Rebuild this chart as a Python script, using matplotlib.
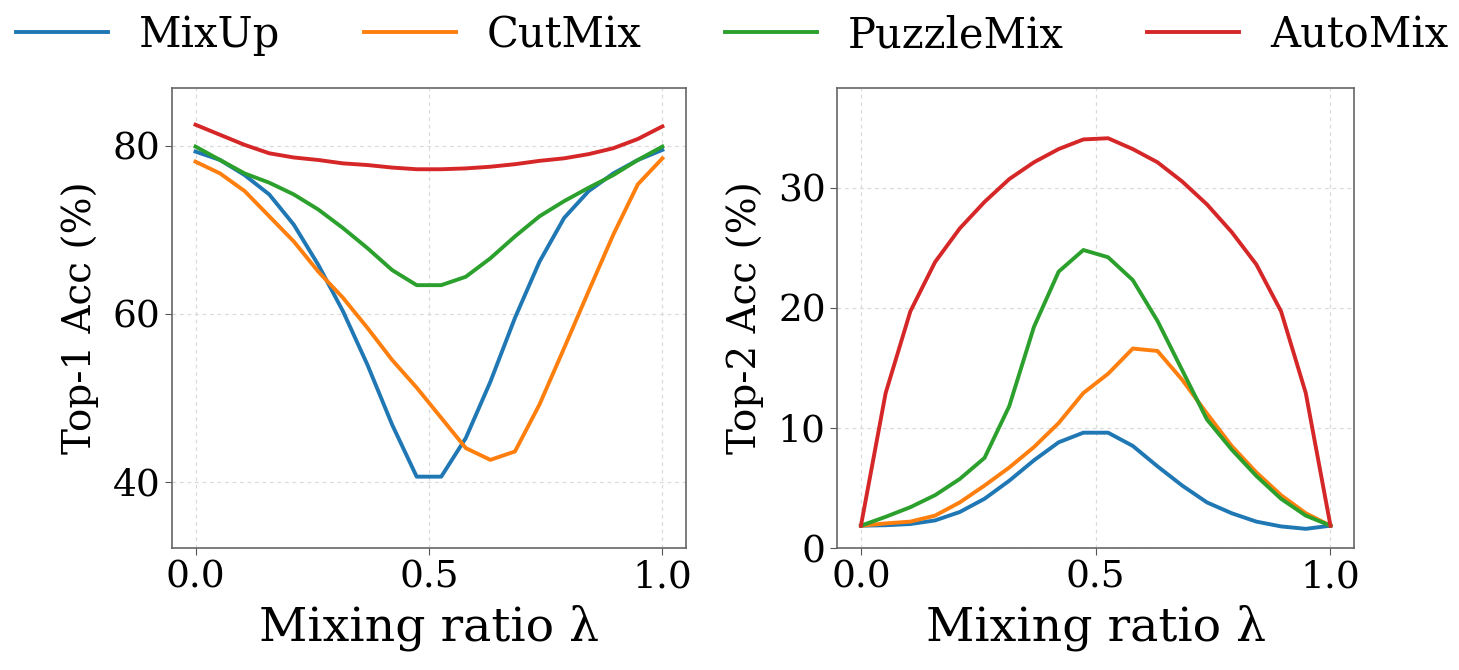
import numpy as np
import matplotlib
matplotlib.use("Agg")
import matplotlib.pyplot as plt

plt.rcParams['font.family'] = ['DejaVu Serif']

lam = np.linspace(0, 1, 20)

methods = ["MixUp", "CutMix", "PuzzleMix", "AutoMix"]
colors = ["#1f77b4", "#ff7f0e", "#2ca02c", "#d62728"]

top1_mixup = [79.3, 78.3, 76.5, 74.2, 70.6, 65.8, 60.3, 53.9, 46.8, 40.6,
              40.6, 45.2, 51.9, 59.5, 66.2, 71.4, 74.6, 76.7, 78.3, 79.5]
top1_cutmix = [78.1, 76.7, 74.6, 71.6, 68.6, 65.0, 61.9, 58.3, 54.5, 51.2,
               47.6, 44.0, 42.6, 43.6, 49.2, 55.9, 62.7, 69.4, 75.4, 78.5]
top1_puzzlemix = [79.9, 78.3, 76.7, 75.6, 74.2, 72.4, 70.2, 67.8, 65.2, 63.4,
                  63.4, 64.4, 66.6, 69.2, 71.6, 73.4, 75.0, 76.5, 78.3, 79.9]
top1_automix = [82.5, 81.3, 80.1, 79.1, 78.6, 78.3, 77.9, 77.7, 77.4, 77.2,
                77.2, 77.3, 77.5, 77.8, 78.2, 78.5, 79.0, 79.7, 80.8, 82.3]

top2_mixup = [1.86, 1.9, 2.0, 2.3, 3.0, 4.1, 5.6, 7.3, 8.8, 9.6,
              9.6, 8.5, 6.8, 5.2, 3.8, 2.9, 2.2, 1.8, 1.6, 1.86]
top2_cutmix = [1.86, 2.05, 2.2, 2.7, 3.8, 5.2, 6.7, 8.4, 10.4, 12.9,
               14.5, 16.6, 16.4, 14.0, 11.2, 8.5, 6.3, 4.4, 2.9, 1.86]
top2_puzzlemix = [1.86, 2.6, 3.4, 4.4, 5.75, 7.5, 11.8, 18.4, 23.0, 24.8,
                  24.2, 22.3, 18.9, 14.8, 10.7, 8.2, 6.0, 4.1, 2.7, 1.86]
top2_automix = [1.86, 12.9, 19.7, 23.8, 26.6, 28.8, 30.7, 32.1, 33.2, 34.0,
                34.1, 33.2, 32.1, 30.5, 28.6, 26.3, 23.6, 19.7, 12.9, 1.86]

top1 = [top1_mixup, top1_cutmix, top1_puzzlemix, top1_automix]
top2 = [top2_mixup, top2_cutmix, top2_puzzlemix, top2_automix]

fig = plt.figure(figsize=(14.59, 6.70), dpi=100)
ax1 = fig.add_axes([0.118, 0.182, 0.352, 0.687])
ax2 = fig.add_axes([0.574, 0.182, 0.354, 0.687])

fs = 27
for ax, data, ylab in [(ax1, top1, "Top-1 Acc (%)"), (ax2, top2, "Top-2 Acc (%)")]:
    for name, c, ys in zip(methods, colors, data):
        ax.plot(lam, ys, color=c, lw=2.8, label=name)
    ax.set_xticks([0.0, 0.5, 1.0])
    ax.set_xticklabels(["0.0", "0.5", "1.0"])
    ax.grid(True, linestyle=(0, (3, 3)), color="#dadada", lw=0.9)
    ax.set_xlabel("Mixing ratio λ", fontsize=fs + 7, labelpad=6)
    ax.set_ylabel(ylab, fontsize=fs + 1, labelpad=10)
    ax.tick_params(labelsize=fs, length=5, color="#555555")
    for s in ax.spines.values():
        s.set_color("#666666")
        s.set_linewidth(1.2)

ax1.set_ylim(32.1, 86.9)
ax1.set_yticks([40, 60, 80])
ax2.set_ylim(0, 38.3)
ax2.set_yticks([0, 10, 20, 30])

handles, labels = ax1.get_legend_handles_labels()
fig.legend(handles, labels, loc="upper center", ncol=4, bbox_to_anchor=(0.502, 1.035),
           frameon=False, fontsize=30, handlelength=2.2, handletextpad=0.75,
           columnspacing=2.0)

fig.savefig("out.png", dpi=100)
